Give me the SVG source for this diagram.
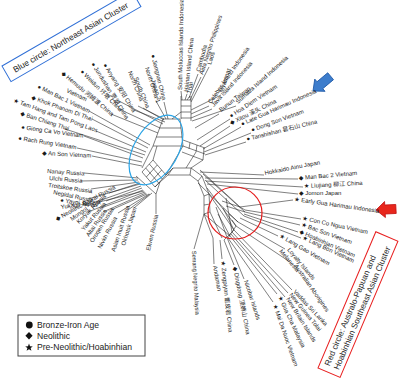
<svg xmlns="http://www.w3.org/2000/svg" width="400" height="381" viewBox="0 0 400 381">
<style>
.lb{font-family:"Liberation Sans","DejaVu Sans","Noto Sans CJK SC",sans-serif;font-size:6px;fill:#1a1a1a}
.ln{fill:none;stroke:#2a2a2a;stroke-width:0.6}
.lg{font-family:"Liberation Sans","DejaVu Sans",sans-serif;font-size:8.6px;fill:#222}
.bx{font-family:"Liberation Sans","DejaVu Sans",sans-serif;fill:#222}
</style>
<rect width="400" height="381" fill="#fff"/>
<g id="connectors" class="ln">
<path d="M163,119 L153,146 M180,119 L183,146 M163,119 H180 M159.7,128 H181 M156.3,137 H182 M153,146 H183"/>
<path d="M181,96 V119 M191,96 V121 M181,100 H191 M181,106 H191 M181,112 H191 M181,118 H191 M172,119 L181,112"/>
<path d="M142,172 L153,160 M146.3,177 L157.3,165 M150.7,182 L161.7,170 M155,187 L166,175 M142,172 L155,187 M145.7,168 L158.7,183 M149.3,164 L162.3,179 M153,160 L166,175"/>
<path d="M153,146 L142,168 M157,146 L153,160 M183,146 L166,175"/>
<path d="M183,140 L205,148 M183,146 L205,154 M182,152 L203,160 M190,142.5 L189,149 M197,145 L196,152 M204,148 L203,160"/>
<path d="M166,175 L173,168 L191,168 L202,176 L209,194 L210,212 M160,182 L168,175 L190,175 L198,181 L204,196 L204,214 M173,168 L168,175 M191,168 L190,175 M202,176 L198,181 M209,194 L204,196 M210,204 L204,205 M210,212 L204,214 M160,182 L155,187"/>
<path d="M203,160 L191,168 M196,152 L186,168"/>
<path d="M136,176 L156,194 M156,194 L160,182"/>
<path d="M200,170 L240,207 M203,174 L245,212 M205,180 L244,216 M198,183 L238,222 M207,188 L236,226 M204,214 L230,236 M209,194 L234,230 M204,214 L213,238 M210,212 L222,238"/>
<path d="M222,201 L240,207 M226,206 L245,212 M229,214 L238,222 M232,220 L236,226 M218,214 L230,236 M223,208 L234,230 M226,198 L232,232 M216,207 L228,240 M240,207 L245,210 M236,226 L228,238 M234,230 L224,240"/>
<path d="M134,110 L165,122 M119,101 L163,124 M121,110 L160,128 M111,114 L158,133 M89,111 L150,145 M92,119 L148,148 M96,131 L146,152 M65,129 L145,155 M84,136 L143,158 M77,148 L142,162 M92,156 L142,166"/>
<path d="M164,102 L168,119 M156,101 L166,119 M143,108 L164,120 M138,106 L164,119"/>
<path d="M181,91 L182,100 M187,94 L185,100 M190,96 L187,100 M198,74 L189,98 M201,77 L190,100 M209,67 L191,102 M221,95 L191,110 M209,106 L191,114 M212,109 L191,118 M236,106 L192,121 M219,114 L195,128 M230,119 L197,140 M230,126 L200,146 M241,127 L203,149 M251,133 L204,152 M246,142 L205,155"/>
<path d="M264,175 L200,172 M298,179 L205,178 M303,187 L206,181 M298,194 L207,184 M293,200 L240,207 M301,219 L245,210 M300,225 L245,212 M298,232 L244,214 M301,238 L244,216 M278,236 L240,218 M285,249 L238,222 M290,262 L236,226 M292,290 L234,230 M288,293 L232,232 M285,297 L231,234 M277,294 L230,236 M273,302 L228,238"/>
<path d="M244,279 L228,240 M234,265 L224,240 M222,259 L220,240 M214,264 L213,238 M194,249 L204,214"/>
<path d="M84,173 L138,178 M80,181 L138,180 M91,189 L139,182 M88,199 L140,184 M93,203 L141,186 M106,201 L142,188 M109,193 L140,183 M88,212 L143,190 M99,202 L144,191 M101,208 L145,192 M103,212 L146,193 M111,210 L147,194 M118,213 L149,194 M128,210 L150,194 M134,208 L152,193 M156,214 L156,194"/>
</g>
<g id="blue-circle"><ellipse cx="156" cy="150" rx="38" ry="22" transform="rotate(-60 156 150)" fill="none" stroke="#2aa4e6" stroke-width="1.2"/></g>
<g id="red-circle"><ellipse cx="235" cy="213" rx="27" ry="26" fill="none" stroke="#e51c1c" stroke-width="1.2"/></g>
<g id="blue-box" transform="translate(2,66) rotate(-30)">
<rect x="0" y="0" width="150" height="18" fill="none" stroke="#2f6fd6" stroke-width="1"/>
<text class="bx" x="8" y="12.5" font-size="8.4">Blue circle: Northeast Asian Cluster</text>
</g>
<g id="red-box" transform="translate(318,368) rotate(-67)">
<rect x="0" y="0" width="148" height="24" fill="none" stroke="#e82020" stroke-width="1"/>
<text class="bx" font-size="8.3" x="6" y="10">Red circle: Australo-Papuan and</text>
<text class="bx" font-size="8.3" x="6" y="20">Hoabinhian Southeast Asian Cluster</text>
</g>
<g id="blue-arrow" transform="translate(313,91) rotate(-40)"><path d="M0,0 L9,-8 L9,-4.5 L23,-4.5 L23,4.5 L9,4.5 L9,8 Z" fill="#3d7dcc" stroke="#1d58a6" stroke-width="0.8"/></g>
<g id="red-arrow" transform="translate(376,210) rotate(-3)"><path d="M0,0 L9,-8 L9,-4.5 L20,-4.5 L20,4.5 L9,4.5 L9,8 Z" fill="#e8261c" stroke="#c01010" stroke-width="0.8"/></g>
<g id="legend">
<rect x="18" y="315" width="127" height="41" fill="none" stroke="#444" stroke-width="1"/>
<circle cx="29.3" cy="325" r="3.4" fill="#111"/>
<path d="M29,332 L32.6,335.7 L29,339.4 L25.4,335.7 Z" fill="#111"/>
<path d="M29,343.6 L30,346.3 L32.8,346.4 L30.6,348.1 L31.4,350.8 L29,349.2 L26.6,350.8 L27.4,348.1 L25.2,346.4 L28,346.3 Z" fill="#111"/>
<text class="lg" x="37" y="328.3">Bronze-Iron Age</text>
<text class="lg" x="37" y="339">Neolithic</text>
<text class="lg" x="37" y="350.3">Pre-Neolithic/Hoabinhian</text>
</g>
<g id="n-anyang"><text class="lb" transform="translate(103,65) rotate(58)">● Anyang 安阳 China</text></g>
<g id="n-jundushan"><text class="lb" transform="translate(91,64) rotate(58)">● Jundushan 贾湖 China</text></g>
<g id="n-weidun"><text class="lb" transform="translate(80,72) rotate(45)">● Weidun 圩墩 China</text></g>
<g id="n-hemudu"><text class="lb" transform="translate(61,74) rotate(40)">◆ Hemudu 河姆渡 China</text></g>
<g id="n-vietnam"><text class="lb" transform="translate(66,92) rotate(25)">Vietnam</text></g>
<g id="n-manbac1"><text class="lb" transform="translate(37,88) rotate(26)">● Man Bac 1 Vietnam</text></g>
<g id="n-khok"><text class="lb" transform="translate(31,99) rotate(20)">◆ Khok Phanom Di Thai</text></g>
<g id="n-tamhang"><text class="lb" transform="translate(13,102) rotate(20)">★ Tam Hang and Tam Pong Laos</text></g>
<g id="n-banchiang"><text class="lb" transform="translate(20,115) rotate(18)">◆ Ban Chiang Thai</text></g>
<g id="n-giong"><text class="lb" transform="translate(21,129) rotate(8)">● Giong Ca Vo Vietnam</text></g>
<g id="n-rach"><text class="lb" transform="translate(18,140) rotate(9)">● Rach Rung Vietnam</text></g>
<g id="n-anson"><text class="lb" transform="translate(42,155) rotate(3)">◆ An Son Vietnam</text></g>
<g id="n-jiangnan"><text class="lb" transform="translate(151,55) rotate(76)">● Jiangnan China</text></g>
<g id="n-northchina1"><text class="lb" transform="translate(145,68) rotate(72)">North China 1</text></g>
<g id="n-japan2"><text class="lb" transform="translate(151,80) rotate(72)">Japan 2</text></g>
<g id="n-northchina"><text class="lb" transform="translate(128,72) rotate(68)">North China</text></g>
<g id="n-southchina"><text class="lb" transform="translate(134,78) rotate(68)">South China</text></g>
<g id="n-moluccas"><text class="lb" font-size="5.2" transform="translate(182,90) rotate(-89)">South Moluccas Islands Indonesia</text></g>
<g id="n-hainan"><text class="lb" transform="translate(188,92) rotate(-84)">Hainan Island China</text></g>
<g id="n-thai"><text class="lb" transform="translate(191,94) rotate(-80)">Thai</text></g>
<g id="n-cambodia"><text class="lb" transform="translate(200,72) rotate(-75)">Cambodia</text></g>
<g id="n-aeta"><text class="lb" transform="translate(203,75) rotate(-72)" textLength="62" lengthAdjust="spacingAndGlyphs">Aeta Negrito Philippines</text></g>
<g id="n-laos"><text class="lb" transform="translate(211,65) rotate(-72)">Laos</text></g>
<g id="n-myanmar"><text class="lb" transform="translate(223,93) rotate(-72)">Myanmar</text></g>
<g id="n-celebes"><text class="lb" transform="translate(211,104) rotate(-55)">Celebes Island Indonesia</text></g>
<g id="n-java"><text class="lb" transform="translate(214,107) rotate(-48)">Java Island Indonesia</text></g>
<g id="n-sumatra"><text class="lb" transform="translate(238,104) rotate(-42)">Sumatra Island Indonesia</text></g>
<g id="n-bunun"><text class="lb" transform="translate(221,112) rotate(-37)">Bunun Taiwan</text></g>
<g id="n-hoadiem"><text class="lb" transform="translate(231,118) rotate(-33)">● Hoa Diem Vietnam</text></g>
<g id="n-xitou"><text class="lb" transform="translate(231,125) rotate(-26)">◆ Xitou 溪头 China</text></g>
<g id="n-lategh"><text class="lb" transform="translate(242,126) rotate(-24)">● Late Gua Harimau Indonesia</text></g>
<g id="n-dongson"><text class="lb" transform="translate(252,132) rotate(-20)">● Dong Son Vietnam</text></g>
<g id="n-tanshishan"><text class="lb" transform="translate(247,141) rotate(-14)">● Tanshishan 昙石山 China</text></g>
<g id="n-hokkaido"><text class="lb" transform="translate(265,175) rotate(-11)">Hokkaido Ainu Japan</text></g>
<g id="n-manbac2"><text class="lb" transform="translate(299,180) rotate(-5)">◆ Man Bac 2 Vietnam</text></g>
<g id="n-liujiang"><text class="lb" transform="translate(304,188) rotate(-3)">★ Liujiang 柳江 China</text></g>
<g id="n-jomon"><text class="lb" transform="translate(299,195) rotate(0)">◆ Jomon Japan</text></g>
<g id="n-earlygh"><text class="lb" transform="translate(294,201) rotate(8)">★ Early Gua Harimau Indonesia</text></g>
<g id="n-concongua"><text class="lb" transform="translate(302,220) rotate(12)">★ Con Co Ngua Vietnam</text></g>
<g id="n-bacson"><text class="lb" transform="translate(301,226) rotate(20)">★ Bac Son Vietnam</text></g>
<g id="n-hoabinhian"><text class="lb" transform="translate(299,233) rotate(24)">◆ Hoabinhian Vietnam</text></g>
<g id="n-langbon"><text class="lb" transform="translate(302,239) rotate(25)">★ Lang Bon Vietnam</text></g>
<g id="n-langgao"><text class="lb" transform="translate(279,237) rotate(30)">★ Lang Gao Vietnam</text></g>
<g id="n-loyalty"><text class="lb" transform="translate(287,250) rotate(50)"><tspan x="0" y="0">Loyalty Islands</tspan><tspan x="-4" y="7">Melanesia</tspan></text></g>
<g id="n-australian"><text class="lb" transform="translate(294,266) rotate(55)">Australian Aborigines</text></g>
<g id="n-vedda"><text class="lb" transform="translate(293,292) rotate(47)">Vaddas Sri Lanka</text></g>
<g id="n-newguinea"><text class="lb" transform="translate(289,295) rotate(51)">New Guinea Tolai</text></g>
<g id="n-newbritain"><text class="lb" transform="translate(286,299) rotate(58)">New Britain Islands</text></g>
<g id="n-guacha"><text class="lb" transform="translate(278,297) rotate(65)">★ Gua Cha Malaysia</text></g>
<g id="n-maidanuoc"><text class="lb" transform="translate(273,305) rotate(71)">★ Mai Da Nuoc Vietnam</text></g>
<g id="n-nicobar"><text class="lb" transform="translate(244,281) rotate(72)">Nicobar Islands</text></g>
<g id="n-dingdong"><text class="lb" transform="translate(233,267) rotate(79)">◆ Dingdong 顶蛳山 China</text></g>
<g id="n-zengpiyan"><text class="lb" transform="translate(221,261) rotate(84)">★ Zengpiyan 甑皮岩 China</text></g>
<g id="n-andaman"><text class="lb" transform="translate(213,266) rotate(80)">Andaman</text></g>
<g id="n-semang"><text class="lb" transform="translate(192,251) rotate(87)" textLength="64" lengthAdjust="spacingAndGlyphs">Semang Negrito Malaysia</text></g>
<g id="n-ekven"><text class="lb" transform="translate(150,251) rotate(-77)">Ekven Russia</text></g>
<g id="n-okhotsk"><text class="lb" transform="translate(125,246) rotate(-73)">Okhotsk Japan</text></g>
<g id="n-inuit"><text class="lb" transform="translate(115,252) rotate(-72)">Asian Inuit Russia</text></g>
<g id="n-nivkh"><text class="lb" transform="translate(101,249) rotate(-62)">Nivkh Russia</text></g>
<g id="n-oroqen"><text class="lb" transform="translate(93,243) rotate(-58)">Oroqen Russia</text></g>
<g id="n-altai"><text class="lb" transform="translate(89,237) rotate(-55)">Altai Russia</text></g>
<g id="n-yakut"><text class="lb" transform="translate(84,231) rotate(-50)">Yakut Russia</text></g>
<g id="n-koryak"><text class="lb" transform="translate(79,224) rotate(-45)">Koryak Russia</text></g>
<g id="n-mongol"><text class="lb" transform="translate(72,221) rotate(-35)">Mongol</text></g>
<g id="n-baikal"><text class="lb" transform="translate(57,221) rotate(-29)">◆ Neolithic Baikal Russia</text></g>
<g id="n-yukagir"><text class="lb" transform="translate(61,209) rotate(-8)">Yukagir Russia</text></g>
<g id="n-yayoi"><text class="lb" transform="translate(60,202) rotate(8)">● Yayoi Japan</text></g>
<g id="n-negidal"><text class="lb" transform="translate(53,194) rotate(12)">Negidal Russia</text></g>
<g id="n-troitskoe"><text class="lb" transform="translate(48,187) rotate(8)">Troitskoe Russia</text></g>
<g id="n-ulchi"><text class="lb" transform="translate(49,180) rotate(5)">Ulchi Russia</text></g>
<g id="n-nanay"><text class="lb" transform="translate(47,173) rotate(4)">Nanay Russia</text></g>
</svg>
